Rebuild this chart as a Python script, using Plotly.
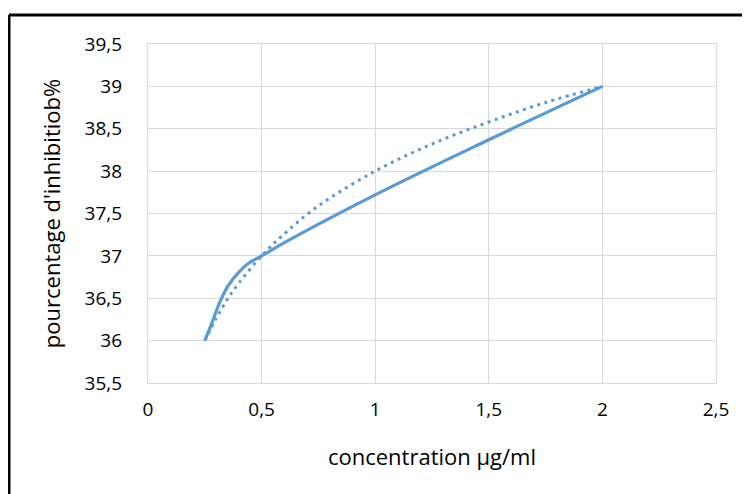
import plotly.graph_objects as go

# solid smoothed line
solid_x = [0.25, 0.28, 0.317, 0.353, 0.397, 0.441, 0.5, 0.63, 1.0, 1.5, 2.0]
solid_y = [36.0, 36.2, 36.46, 36.65, 36.8, 36.91, 37.0, 37.2, 37.72, 38.37, 39.0]

# logarithmic trendline (dotted)
trend_x = [0.25, 0.3, 0.35, 0.4, 0.5, 0.6, 0.75, 1.0, 1.25, 1.5, 1.75, 2.0]
trend_y = [36.0, 36.26, 36.49, 36.68, 37.0, 37.26, 37.59, 38.0, 38.32, 38.58, 38.81, 39.0]

x_ticks = [0, 0.5, 1, 1.5, 2, 2.5]
y_ticks = [35.5, 36, 36.5, 37, 37.5, 38, 38.5, 39, 39.5]

BLUE = "#5B9BD5"
FONT = "Open Sans"

fig = go.Figure()
fig.add_trace(go.Scatter(x=trend_x, y=trend_y, mode="lines",
                         line=dict(color=BLUE, width=3, dash="3px,4.5px", shape="spline", smoothing=1),
                         showlegend=False))
fig.add_trace(go.Scatter(x=solid_x, y=solid_y, mode="lines",
                         line=dict(color=BLUE, width=3.2, shape="spline", smoothing=1.1),
                         showlegend=False))

L, R, T, B = 140, 42, 36, 119
W, H = 750, 494
pw, ph = W - L - R, H - T - B
fx = (1 - L) / pw
fy = (H - B - 7) / ph

fig.update_layout(
    width=W, height=H,
    margin=dict(l=L, r=R, t=T, b=B),
    paper_bgcolor="white", plot_bgcolor="white",
    separators=", ",
    font=dict(family=FONT, size=19, color="#000000"),
    xaxis=dict(range=[0, 2.5], tickvals=x_ticks, showgrid=True, gridcolor="#D9D9D9", gridwidth=1.2,
               zeroline=False, showline=True, linecolor="#D9D9D9", linewidth=1.2, mirror=True,
               ticks="", ticklabelstandoff=9, automargin=False,
               title=dict(text="concentration µg/ml", font=dict(size=22), standoff=28)),
    yaxis=dict(range=[35.5, 39.5], tickvals=y_ticks, showgrid=True, gridcolor="#D9D9D9", gridwidth=1.2,
               zeroline=False, showline=True, linecolor="#D9D9D9", linewidth=1.2, mirror=True,
               ticks="", ticklabelstandoff=21, automargin=False,
               title=dict(text="pourcentage d'inhibitiob%", font=dict(size=22), standoff=17)),
    shapes=[
        dict(type="line", xref="paper", yref="paper", x0=fx, x1=fx, y0=-1, y1=fy,
             line=dict(color="black", width=3)),
        dict(type="line", xref="paper", yref="paper", x0=fx, x1=1.5, y0=fy, y1=fy,
             line=dict(color="black", width=3)),
    ],
)

fig.write_html("out.html")
